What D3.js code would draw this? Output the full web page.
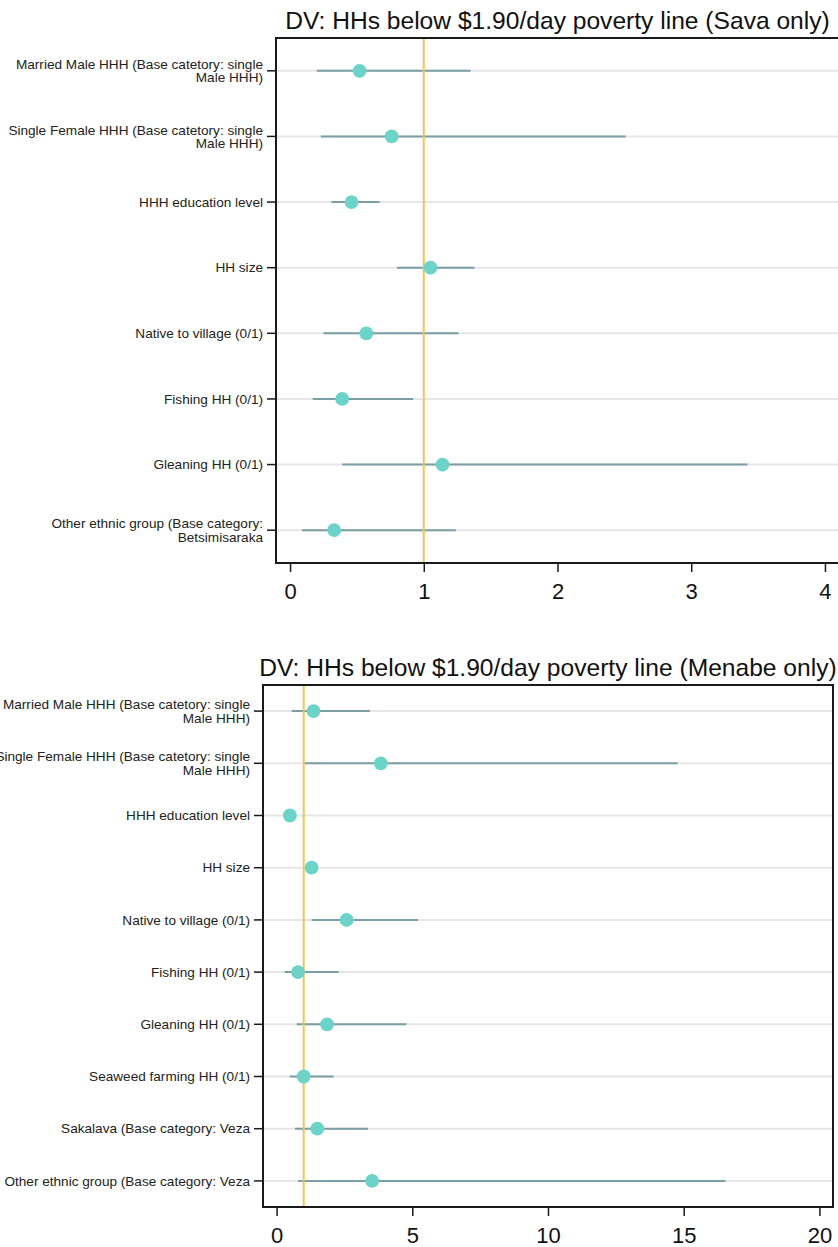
<!DOCTYPE html>
<html>
<head>
<meta charset="utf-8">
<script src="https://cdn.jsdelivr.net/npm/d3@7"></script>
<style>
  html, body { margin: 0; padding: 0; background: #fff; }
  svg { display: block; font-family: "Liberation Sans", Arial, sans-serif; }
</style>
</head>
<body>
<svg id="chart" width="838" height="1247"></svg>
<script>
// Odds ratios with 95% confidence intervals, Sava region
const savaTitle = "DV: HHs below $1.90/day poverty line (Sava only)";
const savaCategories = [
  "Married Male HHH (Base catetory: single\nMale HHH)",
  "Single Female HHH (Base catetory: single\nMale HHH)",
  "HHH education level",
  "HH size",
  "Native to village (0/1)",
  "Fishing HH (0/1)",
  "Gleaning HH (0/1)",
  "Other ethnic group (Base category:\nBetsimisaraka"
];
const savaEstimate = [0.52, 0.76, 0.46, 1.05, 0.57, 0.39, 1.14, 0.33];
const savaLower    = [0.20, 0.23, 0.31, 0.80, 0.25, 0.17, 0.39, 0.09];
const savaUpper    = [1.35, 2.51, 0.67, 1.38, 1.26, 0.92, 3.42, 1.24];
const savaTicks    = [0, 1, 2, 3, 4];

// Odds ratios with 95% confidence intervals, Menabe region
const menabeTitle = "DV: HHs below $1.90/day poverty line (Menabe only)";
const menabeCategories = [
  "Married Male HHH (Base catetory: single\nMale HHH)",
  "Single Female HHH (Base catetory: single\nMale HHH)",
  "HHH education level",
  "HH size",
  "Native to village (0/1)",
  "Fishing HH (0/1)",
  "Gleaning HH (0/1)",
  "Seaweed farming HH (0/1)",
  "Sakalava (Base category: Veza",
  "Other ethnic group (Base category: Veza"
];
const menabeEstimate = [1.36, 3.84, 0.49, 1.29, 2.58, 0.79, 1.86, 1.00, 1.50, 3.52];
const menabeLower    = [0.56, 1.03, 0.36, 1.08, 1.29, 0.30, 0.74, 0.49, 0.68, 0.79];
const menabeUpper    = [3.44, 14.78, 0.64, 1.53, 5.21, 2.29, 4.78, 2.10, 3.37, 16.54];
const menabeTicks    = [0, 5, 10, 15, 20];

// Reference value: odds ratio of 1
const referenceValue = 1;

const colors = {
  grid: "#e6e6e6",
  ci: "#7b9ea5",
  point: "#6bd3c8",
  ref: "#f2c457",
  frame: "#1a1a1a",
  text: "#222"
};

const svg = d3.select("#chart");

function drawPanel(opts) {
  const { title, categories, est, lo, hi, ticks, xDomain, left, right, top, bottom } = opts;

  const g = svg.append("g");

  const x = d3.scaleLinear().domain(xDomain).range([left, right]);
  const y = d3.scaleBand().domain(categories).range([top, bottom]).padding(0);
  const yc = d => y(d) + y.bandwidth() / 2;

  // Title centred over the plot region
  g.append("text")
    .attr("x", (left + right) / 2)
    .attr("y", top - 9)
    .attr("text-anchor", "middle")
    .attr("font-size", 24.6)
    .attr("fill", "#111")
    .text(title);

  // Horizontal guide per row
  g.append("g").selectAll("line")
    .data(categories)
    .join("line")
    .attr("x1", left).attr("x2", right)
    .attr("y1", yc).attr("y2", yc)
    .attr("stroke", colors.grid)
    .attr("stroke-width", 2);

  const rows = categories.map((c, i) => ({ c, est: est[i], lo: lo[i], hi: hi[i] }));

  // Confidence intervals
  g.append("g").selectAll("line")
    .data(rows)
    .join("line")
    .attr("x1", d => x(d.lo)).attr("x2", d => x(d.hi))
    .attr("y1", d => yc(d.c)).attr("y2", d => yc(d.c))
    .attr("stroke", colors.ci)
    .attr("stroke-width", 2);

  // Reference line at OR = 1
  g.append("line")
    .attr("x1", x(referenceValue)).attr("x2", x(referenceValue))
    .attr("y1", top).attr("y2", bottom)
    .attr("stroke", colors.ref)
    .attr("stroke-width", 2);

  // Point estimates
  g.append("g").selectAll("circle")
    .data(rows)
    .join("circle")
    .attr("cx", d => x(d.est))
    .attr("cy", d => yc(d.c))
    .attr("r", 6.9)
    .attr("fill", colors.point);

  // Frame
  g.append("rect")
    .attr("x", left).attr("y", top)
    .attr("width", right - left).attr("height", bottom - top)
    .attr("fill", "none")
    .attr("stroke", colors.frame)
    .attr("stroke-width", 2);

  // Category axis
  const yAxis = g.append("g")
    .attr("transform", `translate(${left},0)`)
    .call(d3.axisLeft(y).tickSize(9).tickPadding(4).tickFormat(""));
  yAxis.select(".domain").remove();
  yAxis.selectAll(".tick line").attr("stroke", colors.frame).attr("stroke-width", 1.5);
  yAxis.selectAll(".tick text").remove();
  yAxis.selectAll(".tick").each(function(d) {
    const lines = d.split("\n");
    const t = d3.select(this).append("text")
      .attr("x", -13)
      .attr("text-anchor", "end")
      .attr("font-size", 13.6)
      .attr("fill", colors.text);
    const lh = 13.4;
    const start = -(lines.length - 1) * lh / 2;
    lines.forEach((ln, i) => {
      t.append("tspan")
        .attr("x", -13)
        .attr("y", start + i * lh)
        .attr("dy", "0.35em")
        .text(ln);
    });
  });

  // Value axis
  const xAxis = g.append("g")
    .attr("transform", `translate(0,${bottom})`)
    .call(d3.axisBottom(x).tickValues(ticks).tickSize(9).tickPadding(11).tickFormat(d3.format("d")));
  xAxis.select(".domain").remove();
  xAxis.selectAll(".tick line").attr("stroke", colors.frame).attr("stroke-width", 1.5);
  xAxis.selectAll(".tick text")
    .attr("font-size", 22)
    .attr("fill", "#111")
    .attr("font-family", "Liberation Sans, Arial, sans-serif");
}

drawPanel({
  title: savaTitle,
  categories: savaCategories,
  est: savaEstimate, lo: savaLower, hi: savaUpper,
  ticks: savaTicks,
  xDomain: [-0.105, 4.105],
  left: 276, right: 839, top: 38, bottom: 563
});

drawPanel({
  title: menabeTitle,
  categories: menabeCategories,
  est: menabeEstimate, lo: menabeLower, hi: menabeUpper,
  ticks: menabeTicks,
  xDomain: [-0.5, 20.5],
  left: 263, right: 833, top: 685, bottom: 1207
});
</script>
</body>
</html>
